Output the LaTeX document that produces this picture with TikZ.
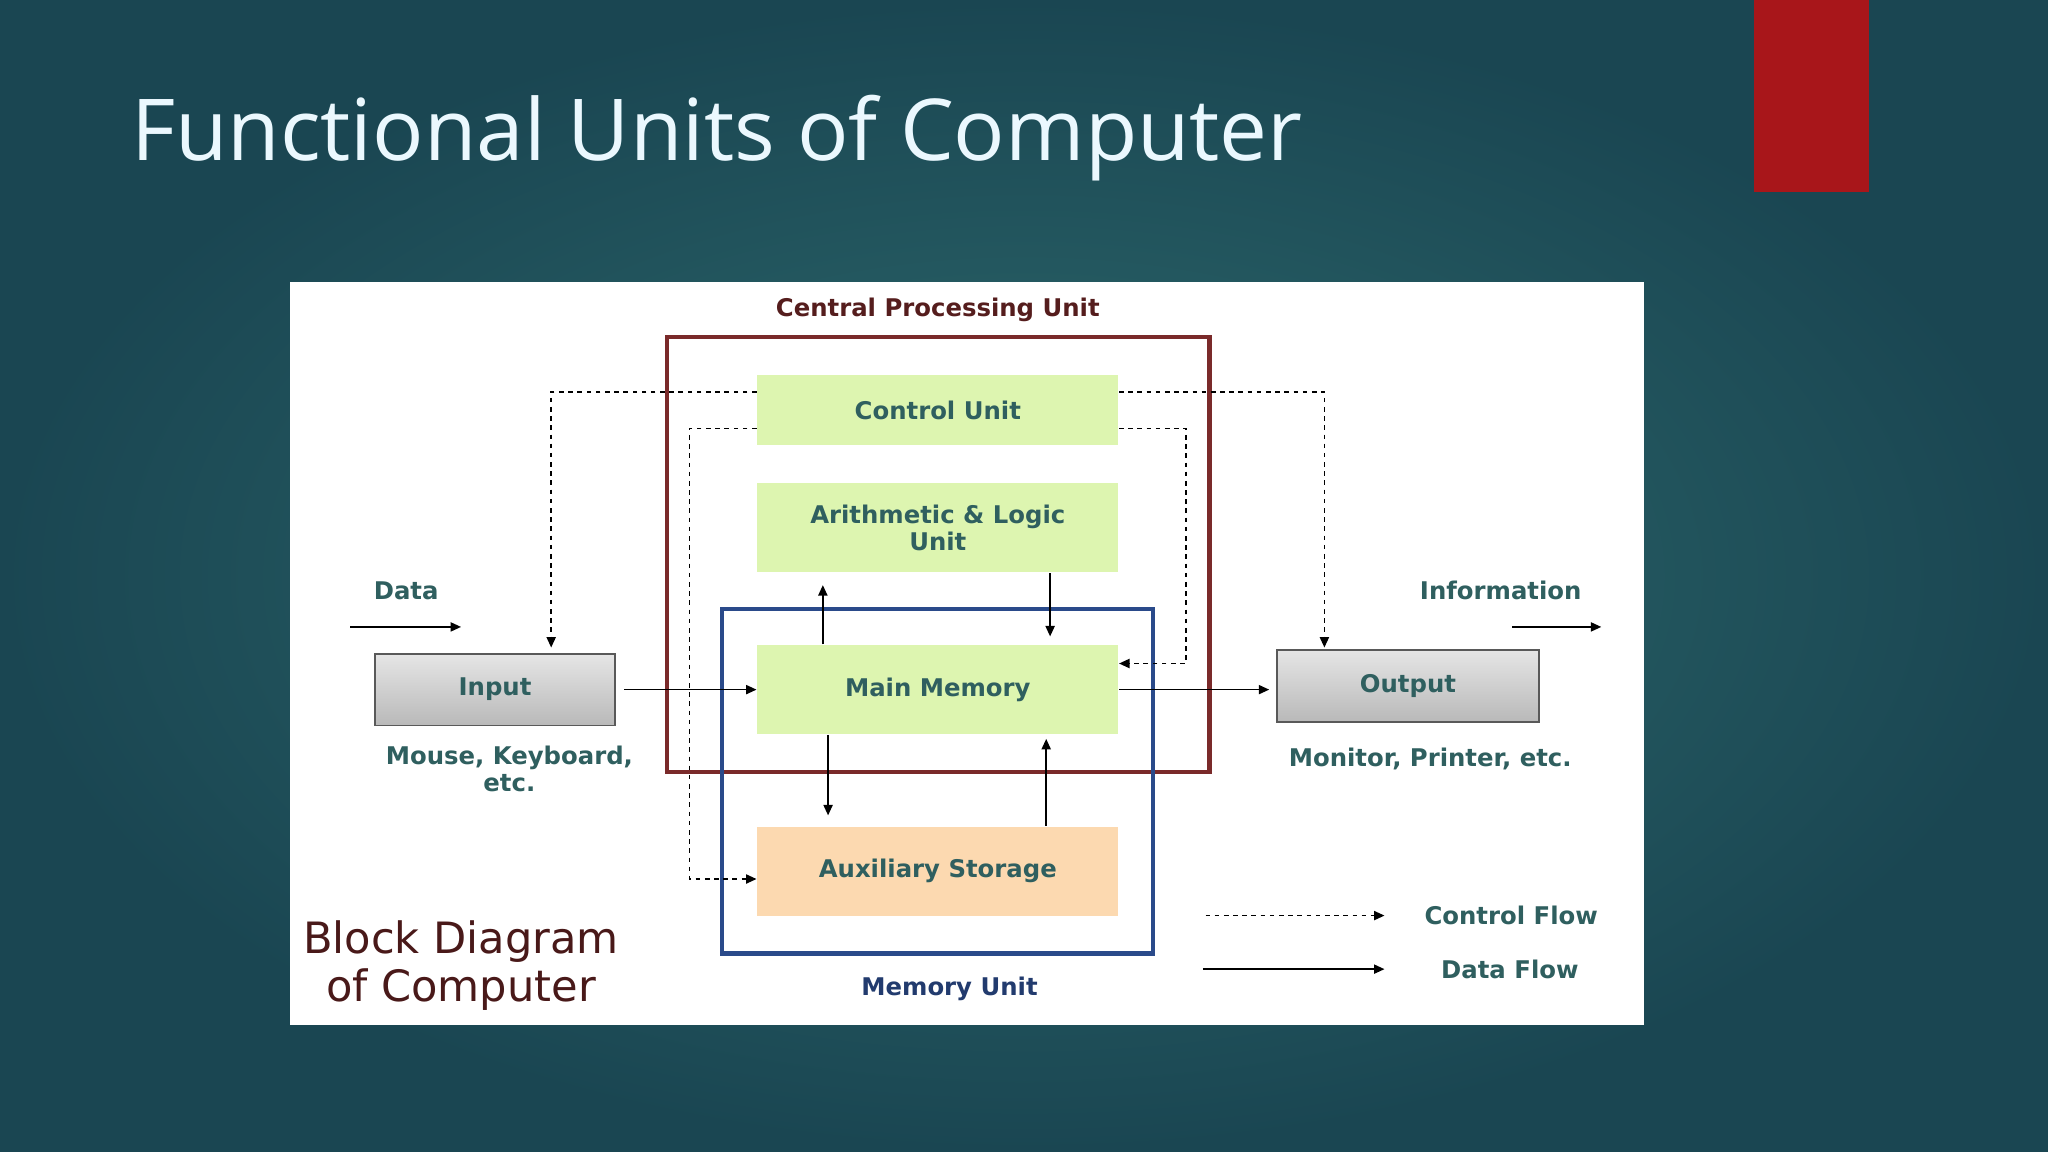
\documentclass[tikz,border=0pt]{standalone}
\usepackage{fontspec}
\setmainfont{DejaVu Sans}
\newfontfamily\titlefont{Open Sans}
\usetikzlibrary{arrows.meta,positioning,calc}
\definecolor{bgmid}{HTML}{2E6B6E}
\definecolor{bgedge}{HTML}{1A4652}
\definecolor{slidered}{HTML}{A8161A}
\definecolor{labtxt}{HTML}{2F5F5F}
\definecolor{cpured}{HTML}{7A2A2A}
\definecolor{memblue}{HTML}{2A4A8A}
\definecolor{boxgreen}{HTML}{DDF5B0}
\definecolor{boxpeach}{HTML}{FCD9B0}
\tikzset{
  unit/.style={draw=none, fill=boxgreen, font=\fontsize{5.3}{5.9}\selectfont\bfseries, text=labtxt, align=center, minimum width=2.76cm},
  dev/.style={draw=gray!70!black, line width=0.4pt, top color=gray!20, bottom color=gray!55, font=\fontsize{5.3}{5.9}\selectfont\bfseries, text=labtxt},
  lab/.style={font=\fontsize{5.3}{5.9}\selectfont\bfseries, text=labtxt, align=center},
  flow/.style={-{Triangle[length=0.8mm,width=0.7mm]}, line width=0.35pt},
  ctrl/.style={flow, dash pattern=on 1pt off 1pt},
}
\begin{document}
\begin{tikzpicture}[x=0.01cm, y=-0.01cm]
\useasboundingbox (0,0) rectangle (1568,882);
\shade[inner color=bgmid, outer color=bgedge] (0,0) rectangle (1568,882);
\fill[slidered] (1343,0) rectangle (1431,147);
\node[anchor=west, font=\titlefont\fontsize{18.6}{22}\selectfont, text=white!92!cyan] (title) at (88,106) {Functional Units of Computer};
\fill[white] (222,216) rectangle (1259,785);

% outer units
\draw[cpured, line width=0.9pt] (511,258) rectangle (926,591);
\draw[memblue, line width=0.9pt] (553,466) rectangle (883,730);
\node[lab, text=cpured!70!black] (cpu) at (718,237) {Central Processing Unit};
\node[lab, text=memblue!80!black] (mem) at (727,757) {Memory Unit};

% blocks
\node[unit, minimum height=0.54cm] (cu) at (718,314) {Control Unit};
\node[unit, minimum height=0.68cm] (alu) at (718,404) {Arithmetic \& Logic\\Unit};
\node[unit, minimum height=0.68cm] (mm) at (718,528) {Main Memory};
\node[unit, fill=boxpeach, minimum height=0.68cm] (aux) at (718,667) {Auxiliary Storage};
\node[dev, minimum width=1.84cm, minimum height=0.55cm] (in) at (379,528) {Input};
\node[dev, minimum width=2.01cm, minimum height=0.55cm] (out) at (1078,525) {Output};
\node[lab] (inlab) at (390,589) {Mouse, Keyboard,\\etc.};
\node[lab] (outlab) at (1095,581) {Monitor, Printer, etc.};
\node[lab] (data) at (311,452) {Data};
\node[lab] (info) at (1149,452) {Information};
\coordinate (d0) at (268,480); \coordinate (d1) at (353,480);
\coordinate (i0) at (1158,480); \coordinate (i1) at (1226,480);

% data flow
\draw[flow] (d0) -- (d1);
\draw[flow] (i0) -- (i1);
\draw[flow] ($(in.east)+(6,0)$) -- (mm.west);
\draw[flow] (mm.east) -- ($(mm.east -| out.west)+(-5,0)$);
\draw[flow] (mm.north -| 630,0) -- (630,448);
\draw[flow] (alu.south -| 804,0) -- ($(mm.north -| 804,0)+(0,-6)$);
\draw[flow] (mm.south -| 634,0) -- ($(aux.north -| 634,0)+(0,-8)$);
\draw[flow] (aux.north -| 801,0) -- ($(mm.south -| 801,0)+(0,3)$);

% control flow
\draw[ctrl] (cu.west |- 0,300) -| ($(in.north -| 422,0)+(0,-4)$);
\draw[ctrl] (cu.east |- 0,300) -| ($(out.north -| 1014,0)+(0,-1)$);
\draw[ctrl] (cu.west |- 0,328) -| (528,673) -- (aux.west |- 0,673);
\draw[ctrl] (cu.east |- 0,328) -| (908,508) -- (mm.east |- 0,508);

% legend
\coordinate (c0) at (923,701); \coordinate (c1) at (1060,701);
\coordinate (f0) at (921,742); \coordinate (f1) at (1060,742);
\draw[ctrl] (c0) -- (c1);
\draw[flow] (f0) -- (f1);
\node[lab] (cflab) at (1157,701) {Control Flow};
\node[lab] (dflab) at (1156,742) {Data Flow};
\node[font=\fontsize{9.4}{10.4}\selectfont, text=cpured!60!black, align=center] (bd) at (353,739) {Block Diagram\\of Computer};
\end{tikzpicture}
\end{document}
